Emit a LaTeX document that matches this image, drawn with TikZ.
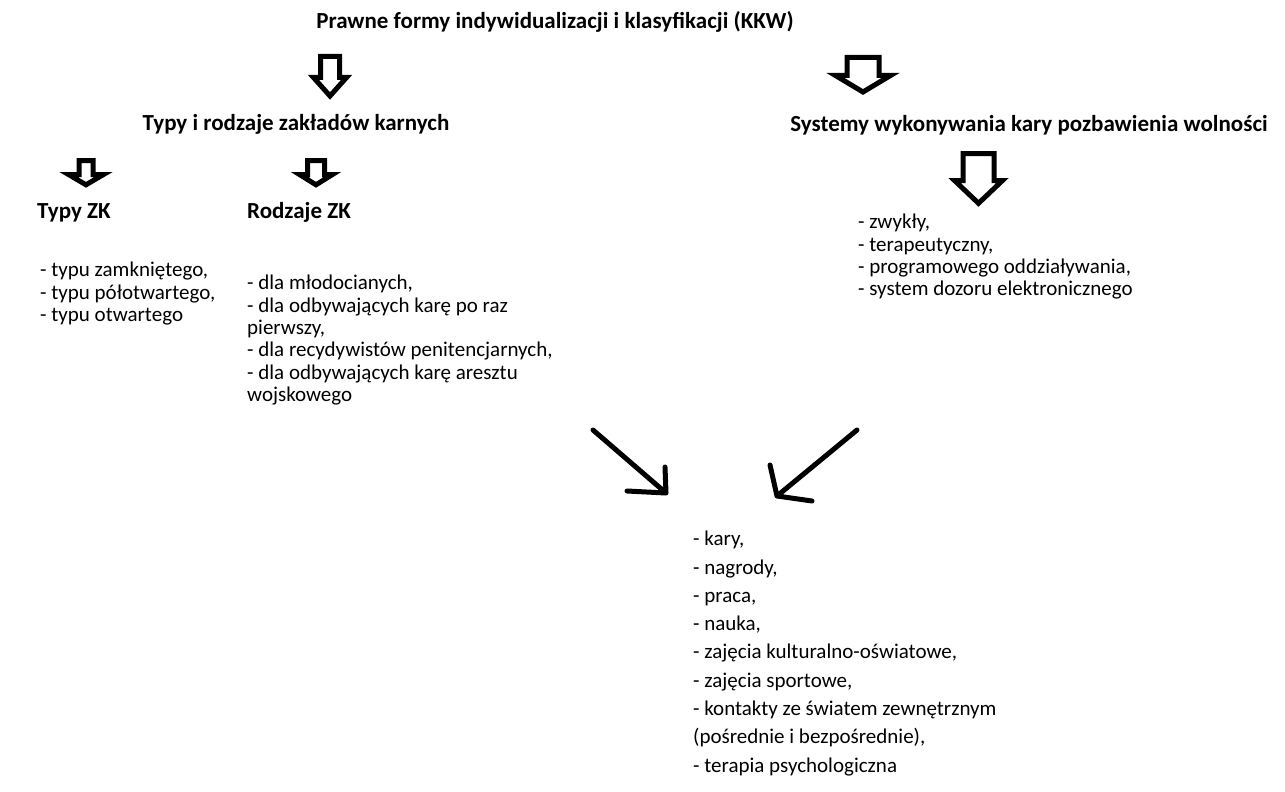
\documentclass[tikz,border=0pt]{standalone}
\usepackage{fontspec}
\setmainfont{Carlito}
\usetikzlibrary{positioning}

\begin{document}
\begin{tikzpicture}[x=1pt,y=-1pt,
    heading/.style={font=\fontsize{23}{26}\selectfont\bfseries, inner sep=0pt, anchor=base},
    entries/.style={font=\fontsize{21}{22.4}\selectfont, align=left,
                    inner sep=0pt, anchor=north west},
    wide/.style={font=\fontsize{21}{28.3}\selectfont},
    outline/.style={line width=5pt, line join=miter},
    pointer/.style={line width=5pt, line cap=round, line join=round},
    pics/hollowdown/.style n args={4}{code={
      \draw[outline] (-#1,0) -- (#1,0) -- (#1,#3) -- (#2,#3) -- (0,#4)
                     -- (-#2,#3) -- (-#1,#3) -- cycle;}}]

  \useasboundingbox (0,0) rectangle (1285,792);

  % headings
  \node[heading] (forms)   at (555,29)  {Prawne formy indywidualizacji i klasyfikacji (KKW)};
  \node[heading] (kinds)   at (296,130) {Typy i rodzaje zakładów karnych};
  \node[heading] (systems) at (1029,131) {Systemy wykonywania kary pozbawienia wolności};
  \node[heading, anchor=base west] (types) at (37,218)  {Typy ZK};
  \node[heading, anchor=base west] (sorts) at (247,218) {Rodzaje ZK};

  % lists
  \node[entries] (typelist) at (40,262)
    {- typu zamkniętego,\\ - typu półotwartego,\\ - typu otwartego};
  \node[entries] (sortlist) at (247,275)
    {- dla młodocianych,\\ - dla odbywających karę po raz\\ pierwszy,\\
     - dla recydywistów penitencjarnych,\\ - dla odbywających karę aresztu\\ wojskowego};
  \node[entries] (syslist) at (858,214)
    {- zwykły,\\ - terapeutyczny,\\ - programowego oddziaływania,\\ - system dozoru elektronicznego};
  \node[entries, wide] (means) at (693,531)
    {- kary,\\ - nagrody,\\ - praca,\\ - nauka,\\ - zajęcia kulturalno-oświatowe,\\
     - zajęcia sportowe,\\ - kontakty ze światem zewnętrznym\\
     (pośrednie i bezpośrednie),\\ - terapia psychologiczna};

  % hollow arrows
  \pic at (330,56.5)   {hollowdown={9.5}{16.5}{21}{39.5}};
  \pic at (863,57.5)   {hollowdown={16}{27.5}{18}{34.5}};
  \pic at (86,160.5)   {hollowdown={7}{17.5}{14}{24.3}};
  \pic at (316,160.5)  {hollowdown={8.5}{16.5}{14}{24.3}};
  \pic at (978.5,153.5) {hollowdown={15.5}{24}{27}{49.8}};

  % hand drawn arrows
  \coordinate (leftfrom)  at (593,430);
  \coordinate (lefttip)   at (666,493);
  \coordinate (rightfrom) at (857,430);
  \coordinate (righttip)  at (777,496);
  \draw[pointer] (leftfrom) -- (lefttip) -- ++(-1,-26)
                 (lefttip) -- ++(-39,-2);
  \draw[pointer] (rightfrom) -- (righttip) -- ++(-7,-31)
                 (righttip) -- ++(35,5);
\end{tikzpicture}
\end{document}
